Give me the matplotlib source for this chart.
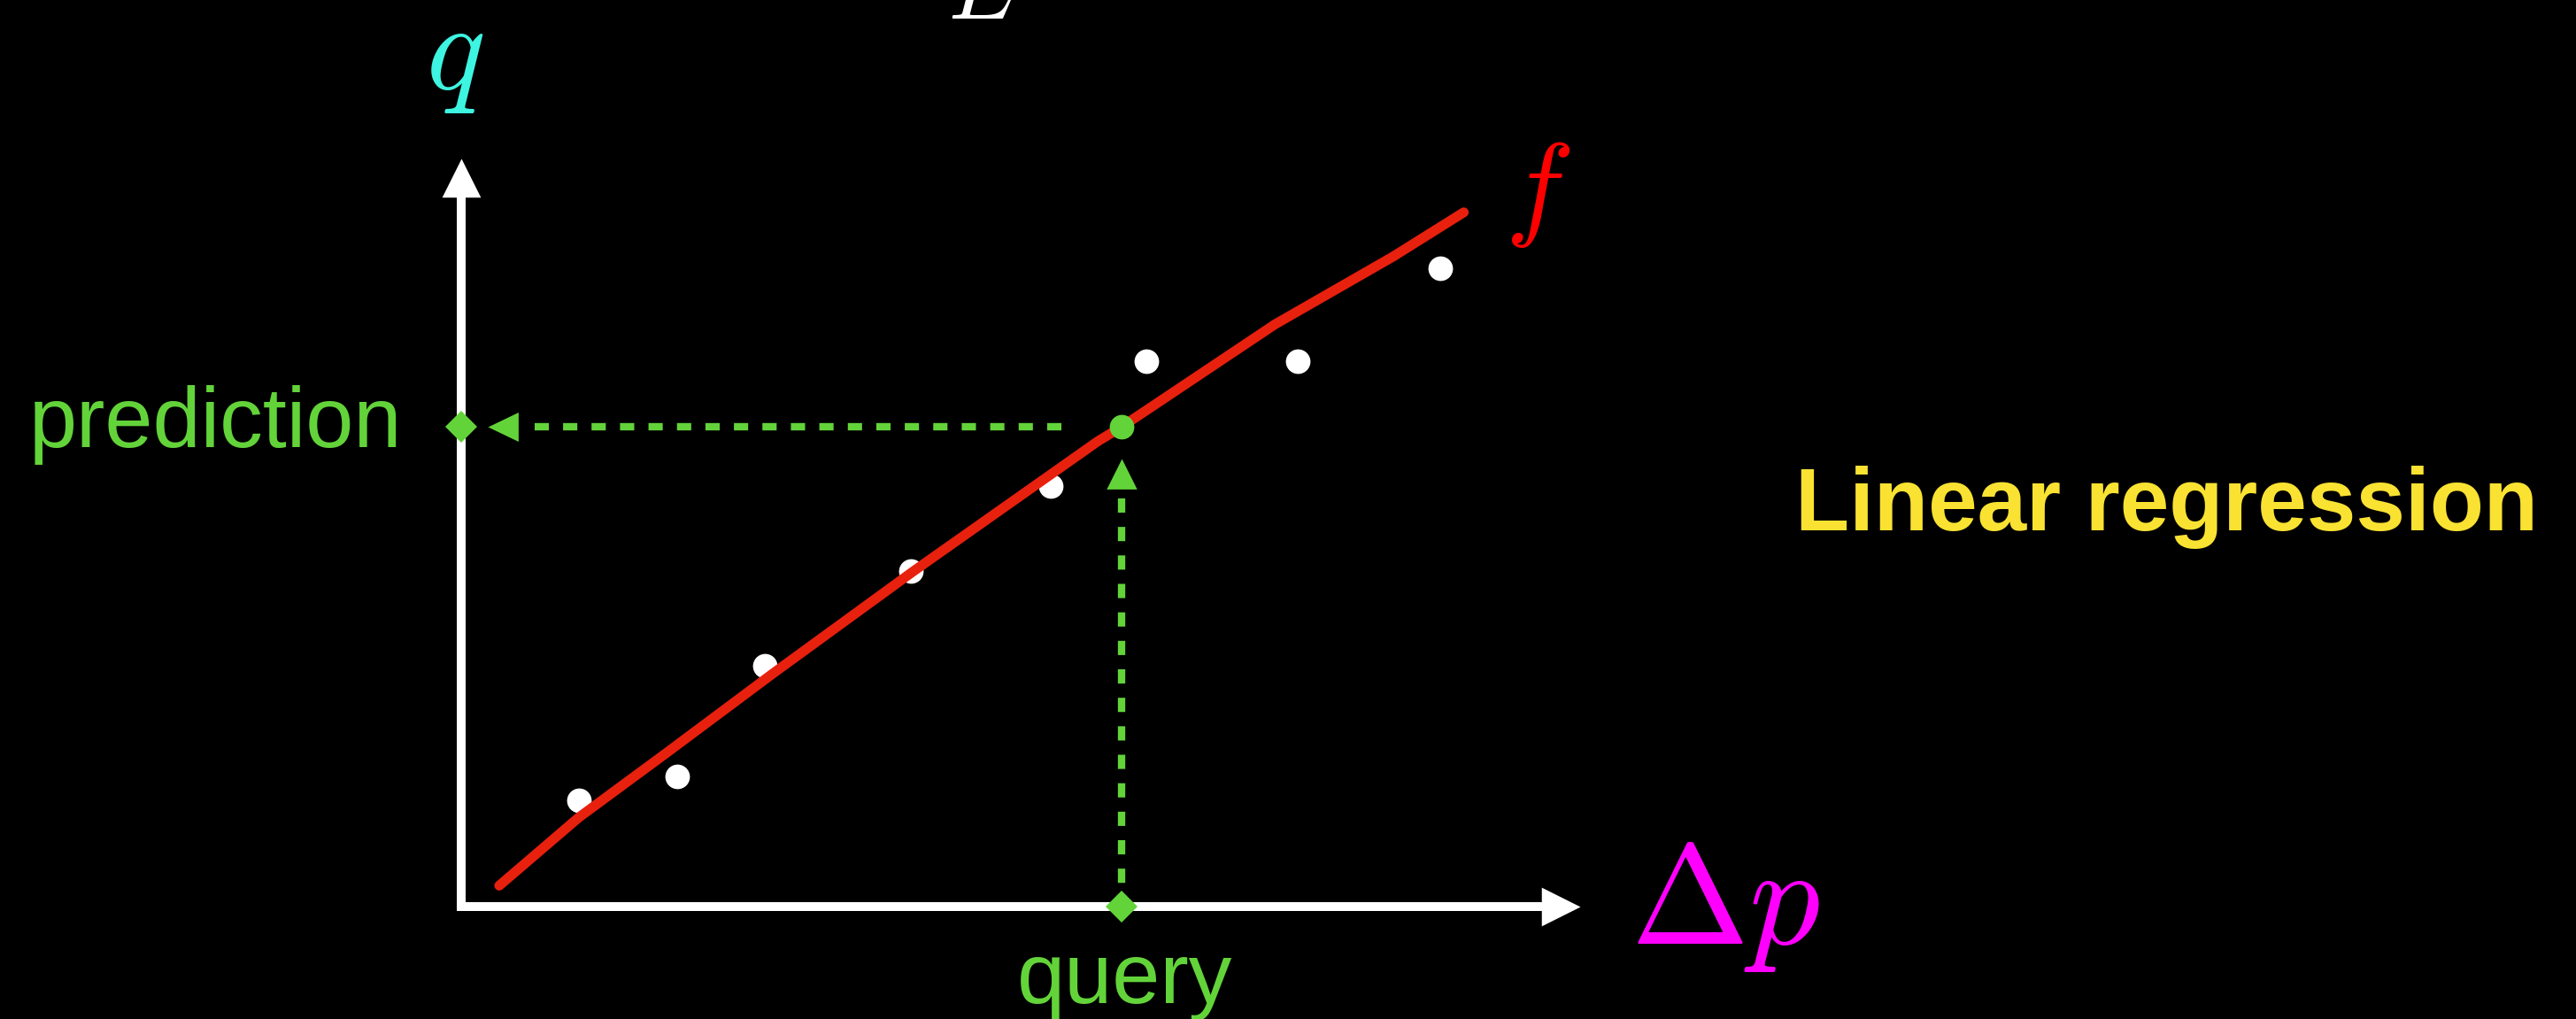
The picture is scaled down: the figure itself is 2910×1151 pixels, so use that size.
import matplotlib.pyplot as plt
from matplotlib.path import Path

plt.rcParams['mathtext.fontset'] = 'cm'
plt.rcParams['font.family'] = ['Liberation Sans', 'DejaVu Sans']

# observations (delta p, q)
x_pts = [1.05, 1.93, 2.71, 4.02, 5.27, 6.12, 7.48, 8.75]
y_pts = [1.42, 1.74, 3.22, 4.48, 5.62, 7.29, 7.29, 8.53]

# hand drawn fit f
f_x = [0.34, 1.05, 1.84, 2.79, 4.03, 5.69, 5.90, 7.27, 8.33, 8.96]
f_y = [0.28, 1.19, 2.06, 3.12, 4.47, 6.22, 6.41, 7.78, 8.69, 9.28]

# query and its prediction on f
query_x = 5.90
pred_y = 6.41

axis_len = 10.0

GREEN = '#63D33A'
RED = '#E8200E'

fig = plt.figure(figsize=(29.10, 11.51), dpi=100, facecolor='black')
ax = fig.add_axes([0, 0, 1, 1])
ax.set_facecolor('black')
ax.axis('off')
ax.set_xlim(-521 / 126.4, (2910 - 521) / 126.4)
ax.set_ylim((1024 - 1151) / 84.5, 1024 / 84.5)

# arrow head markers with the tip at the marker origin
head_right = Path([(0, 0), (-1, 0.5), (-1, -0.5), (0, 0)])
head_up = Path([(0, 0), (0.5, -1), (-0.5, -1), (0, 0)])
head_left = Path([(0, 0), (1, 0.48), (1, -0.48), (0, 0)])

# axes
ax.plot([0, 0, axis_len - 0.25], [axis_len - 0.37, 0, 0], color='white', lw=7.2,
        solid_joinstyle='miter', solid_capstyle='butt', zorder=2)
ax.plot(axis_len, 0, marker=head_right, ms=63, color='white', mew=0, zorder=2)
ax.plot(0, axis_len, marker=head_up, ms=63, color='white', mew=0, zorder=2)

# dashed guides from the query to the prediction
dash = (0, (1.93, 1.93))
ax.plot([query_x, query_x], [pred_y - 0.955, 0.28], color=GREEN, lw=6, ls=dash,
        dash_capstyle='butt', zorder=3)
ax.plot([query_x - 0.54, 0.66], [pred_y, pred_y], color=GREEN, lw=6, ls=dash,
        dash_capstyle='butt', zorder=3)
ax.plot(query_x, pred_y - 0.425, marker=head_up, ms=49.5, color=GREEN, mew=0, zorder=3)
ax.plot(0.237, pred_y, marker=head_left, ms=49.5, color=GREEN, mew=0, zorder=3)
ax.plot([0, query_x], [pred_y, 0], ls='none', marker='D', ms=18, color=GREEN, mew=0, zorder=4)

# data and fit
ax.plot(x_pts, y_pts, ls='none', marker='o', ms=20, color='white', mew=0, zorder=4)
ax.plot(f_x, f_y, color=RED, lw=8, solid_capstyle='round', solid_joinstyle='round', zorder=5)
ax.plot(query_x, pred_y, marker='o', ms=20, color=GREEN, mew=0, zorder=6)

# labels
ax.text(-0.06, 10.93, r'$q$', fontsize=100, color='#3DF5E1', ha='center', va='baseline')
ax.text(4.66, 11.87, r'$E$', fontsize=72, color='white', ha='center', va='baseline')
ax.text(9.62, 9.13, r'$f$', fontsize=94, color='#FF0000', ha='center', va='baseline')
ax.text(10.45, -0.50, r'$\Delta p$', fontsize=115, color='#FF00FF', ha='left', va='baseline')
ax.text(-0.53, 6.14, 'prediction', fontsize=70, color=GREEN, ha='right', va='baseline')
ax.text(5.93, -1.29, 'query', fontsize=70, color=GREEN, ha='center', va='baseline')
ax.text(11.92, 5.03, 'Linear regression', fontsize=72, fontweight='bold', color='#FAE232',
        ha='left', va='baseline')

fig.savefig('out.png', dpi=100, facecolor='black')
